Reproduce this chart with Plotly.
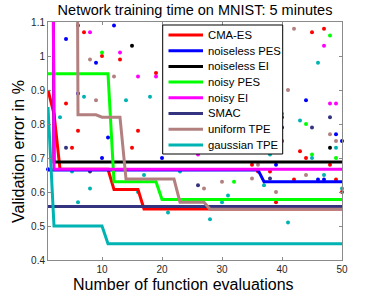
import plotly.graph_objects as go

# ---------------- data ----------------
methods = ["CMA-ES", "noiseless PES", "noiseless EI", "noisy PES",
           "noisy EI", "SMAC", "uniform TPE", "gaussian TPE"]
colors = ["#ff0000", "#0000ff", "#000000", "#00ff00",
          "#ff00ff", "#333380", "#b38080", "#00b3b3"]

# best-so-far curves (vertices at function evaluation numbers)
cma_best_x = [1, 2, 3, 11, 12, 16, 17, 50]
cma_best_y = [0.90, 0.83, 0.667, 0.667, 0.607, 0.607, 0.55, 0.55]
nlpes_best_x = [1, 36, 37, 50]
nlpes_best_y = [0.665, 0.665, 0.63, 0.63]
nlei_best_x = [1, 2, 50]
nlei_best_y = [5.0, 0.688, 0.688]
npes_best_x = [1, 11, 12, 19, 20, 50]
npes_best_y = [0.948, 0.948, 0.63, 0.63, 0.578, 0.578]
nei_best_x = [1, 2, 50]
nei_best_y = [5.0, 0.667, 0.667]
smac_best_x = [1, 50]
smac_best_y = [0.557, 0.557]
utpe_best_x = [1, 5, 6, 9, 10, 13, 14, 22, 23, 27, 28, 50]
utpe_best_y = [5.0, 5.0, 0.827, 0.827, 0.82, 0.82, 0.638, 0.638, 0.57, 0.57, 0.549, 0.549]
gtpe_best_x = [1, 2, 10, 11, 50]
gtpe_best_y = [0.85, 0.50, 0.50, 0.448, 0.448]

# individual evaluations (dots)
cma_eval_x = [4, 5, 6, 7, 10, 13, 15, 16, 19, 35, 36, 38, 39, 40, 42, 43, 44, 45, 47, 48, 49, 50]
cma_eval_y = [0.86, 0.73, 0.78, 1.07, 1.0, 0.99, 0.73, 0.78, 0.95, 0.68, 0.66, 0.66, 0.57, 0.75,
              0.637, 0.72, 0.70, 1.07, 1.08, 0.68, 0.637, 0.60]
nlpes_eval_x = [1, 4, 6, 9, 10, 11, 12, 20, 39, 40, 44, 46, 47, 49, 50]
nlpes_eval_y = [0.667, 1.05, 0.89, 0.98, 0.70, 0.76, 1.09, 0.70, 0.68, 0.79, 0.87, 0.637, 0.637, 0.77, 0.75]
nlei_eval_x = [15, 48]
nlei_eval_y = [1.03, 0.73]
npes_eval_x = [10, 32, 44, 45, 48, 49]
npes_eval_y = [1.01, 0.63, 0.80, 0.71, 1.06, 0.70]
nei_eval_x = [8, 13, 16, 19, 26, 47, 48, 49]
nei_eval_y = [1.07, 1.01, 0.94, 0.94, 0.71, 1.03, 0.86, 0.86]
smac_eval_x = [4, 6, 8, 26, 38, 40, 45, 48]
smac_eval_y = [0.73, 1.09, 0.66, 0.62, 0.64, 0.82, 0.79, 0.82]
utpe_eval_x = [8, 9, 12, 27, 30, 35, 36, 39, 41, 42, 44, 48, 49]
utpe_eval_y = [0.99, 0.87, 0.94, 0.61, 0.63, 0.64, 0.68, 0.60, 0.90, 1.08, 0.65, 0.77, 0.75]
gtpe_eval_x = [3, 5, 6, 7, 8, 14, 16, 17, 18, 21, 23, 28, 30, 31, 37, 38, 40, 41, 43, 45, 46, 47, 49, 50]
gtpe_eval_y = [0.82, 0.66, 0.57, 0.88, 0.61, 0.87, 0.60, 0.65, 0.88, 0.54, 0.66, 0.52, 0.57, 0.59,
               0.62, 0.71, 0.83, 0.51, 0.81, 0.70, 0.98, 0.65, 0.73, 0.61]

x_ticks = [10, 20, 30, 40, 50]
y_ticks = [0.4, 0.5, 0.6, 0.7, 0.8, 0.9, 1.0, 1.1]
y_tick_text = ["0.4", "0.5", "0.6", "0.7", "0.8", "0.9", "1", "1.1"]

title_text = "Network training time on MNIST: 5 minutes"
x_label = "Number of function evaluations"
y_label = "Validation error in %"

best_x = [cma_best_x, nlpes_best_x, nlei_best_x, npes_best_x, nei_best_x, smac_best_x, utpe_best_x, gtpe_best_x]
best_y = [cma_best_y, nlpes_best_y, nlei_best_y, npes_best_y, nei_best_y, smac_best_y, utpe_best_y, gtpe_best_y]
eval_x = [cma_eval_x, nlpes_eval_x, nlei_eval_x, npes_eval_x, nei_eval_x, smac_eval_x, utpe_eval_x, gtpe_eval_x]
eval_y = [cma_eval_y, nlpes_eval_y, nlei_eval_y, npes_eval_y, nei_eval_y, smac_eval_y, utpe_eval_y, gtpe_eval_y]

# ---------------- figure ----------------
W, H = 377, 294
ML, MR, MT, MB = 48, 35, 22, 34
PW, PH = W - ML - MR, H - MT - MB

def px(xp):
    return (xp - ML) / PW

def py(yp):
    return (H - MB - yp) / PH

FONT = "Liberation Sans, Arial, sans-serif"

fig = go.Figure()

for i, m in enumerate(methods):
    fig.add_trace(go.Scatter(x=eval_x[i], y=eval_y[i], mode="markers",
                             marker=dict(color=colors[i], size=4),
                             showlegend=False, cliponaxis=False, hoverinfo="skip"))

for i, m in enumerate(methods):
    fig.add_trace(go.Scatter(x=best_x[i], y=best_y[i], mode="lines", name=m,
                             line=dict(color=colors[i], width=3),
                             showlegend=False))

axis_common = dict(showline=True, linecolor="#8a8a8a", linewidth=1, mirror="ticks",
                   ticks="inside", ticklen=3, tickcolor="#8a8a8a", showgrid=False,
                   zeroline=False, tickfont=dict(family=FONT, size=10, color="#262626"))

fig.update_layout(
    width=W, height=H,
    margin=dict(l=ML, r=MR, t=MT, b=MB),
    paper_bgcolor="white", plot_bgcolor="white",
    showlegend=False,
    title=dict(text=title_text, x=0.5, xref="paper", y=1 - 10 / H, yref="container",
               yanchor="middle", xanchor="center",
               font=dict(family=FONT, size=14.5, color="#000000")),
    xaxis=dict(range=[1, 50], tickvals=x_ticks, **axis_common),
    yaxis=dict(range=[0.4, 1.1], tickvals=y_ticks, ticktext=y_tick_text, **axis_common),
)

# axis labels
fig.add_annotation(text=x_label, xref="paper", yref="paper", x=px(183), y=py(284),
                   showarrow=False, xanchor="center", yanchor="middle",
                   font=dict(family=FONT, size=16, color="#000000"))
fig.add_annotation(text=y_label, xref="paper", yref="paper", x=px(18), y=py(152),
                   showarrow=False, xanchor="center", yanchor="middle", textangle=-90,
                   font=dict(family=FONT, size=16, color="#000000"))

# legend box
lx0, lx1, ly0, ly1 = 162.7, 282.7, 25, 154
fig.add_shape(type="rect", xref="paper", yref="paper", x0=px(lx0), x1=px(lx1), y0=py(ly1), y1=py(ly0),
              line=dict(color="#000000", width=1), fillcolor="white", layer="above")
for i, m in enumerate(methods):
    yc = 35 + i * 15.7
    fig.add_shape(type="line", xref="paper", yref="paper", x0=px(168.5), x1=px(203), y0=py(yc), y1=py(yc),
                  line=dict(color=colors[i], width=3), layer="above")
    fig.add_annotation(text=m, xref="paper", yref="paper", x=px(206), y=py(yc), showarrow=False,
                       xanchor="left", yanchor="middle",
                       font=dict(family=FONT, size=11.3, color="#000000"))

fig.write_html("out.html", config={"displayModeBar": False},
               post_script="document.body.style.margin='0';")
